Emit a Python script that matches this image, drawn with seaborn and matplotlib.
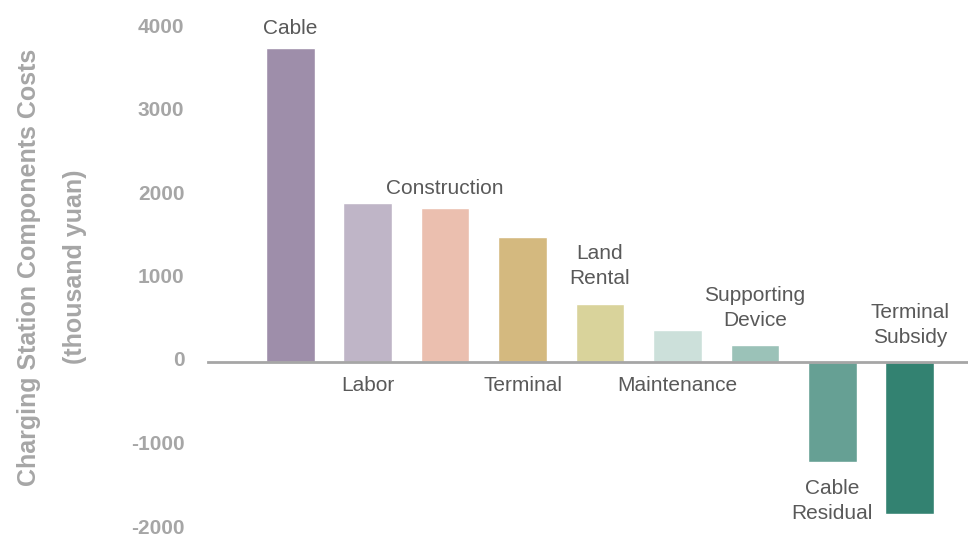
import matplotlib
matplotlib.use("Agg")
import matplotlib.pyplot as plt
from matplotlib.transforms import ScaledTranslation
import seaborn as sns
import pandas as pd

categories = ["Cable", "Labor", "Construction", "Terminal", "Land Rental",
              "Maintenance", "Supporting Device", "Cable Residual", "Terminal Subsidy"]
label_texts = ["Cable", "Labor", "Construction", "Terminal", "Land\nRental",
               "Maintenance", "Supporting\nDevice", "Cable\nResidual", "Terminal\nSubsidy"]
costs = [3760, 1910, 1850, 1500, 700, 380, 200, -1200, -1820]
colors = ["#9E8EAA", "#BFB5C7", "#EBBFAF", "#D4B97F", "#D9D39B",
          "#CCE0DA", "#9BC2B8", "#66A094", "#338271"]
yticks = [-2000, -1000, 0, 1000, 2000, 3000, 4000]

sns.set_theme(style="white")
plt.rcParams['font.family'] = ['Liberation Sans', 'DejaVu Sans']

df = pd.DataFrame({"category": categories, "cost": costs})

W, H = 968, 536
fig = plt.figure(figsize=(W / 100, H / 100), dpi=100)
top_px, bot_px = 28, 529
ax = fig.add_axes([208 / W, 1 - bot_px / H, 1 - 208 / W, (bot_px - top_px) / H])

sns.barplot(data=df, x="category", y="cost", hue="category", order=categories,
            hue_order=categories, palette=colors, legend=False, width=0.63,
            saturation=1, ax=ax)

ax.set_ylim(-2000, 4000)
ax.set_xlim(-1.06, 8.75)
ax.set_yticks(yticks)
ax.set_yticklabels([str(t) for t in yticks], fontsize=15, fontweight="bold",
                   color="#A6A6A6")
ax.tick_params(axis="y", length=0, pad=17)
shift = ScaledTranslation(0, 3 / 100, fig.dpi_scale_trans)
for lab in ax.get_yticklabels():
    lab.set_transform(lab.get_transform() + shift)
ax.set_xticks([])
ax.set_xlabel("")
ax.set_ylabel("")

fig.text(52 / W, 1 - 267 / H, "Charging Station Components Costs\n(thousand yuan)",
         rotation=90, ha="center", va="center", fontsize=18, fontweight="bold",
         color="#A6A6A6", linespacing=2.2, multialignment="center")

for s in ["top", "right", "left"]:
    ax.spines[s].set_visible(False)
ax.spines["bottom"].set_position(("data", 0))
ax.spines["bottom"].set_color("#A6A6A6")
ax.spines["bottom"].set_linewidth(2)

for i, (txt, v) in enumerate(zip(label_texts, costs)):
    extra = 4 * txt.count("\n")
    if i % 2 == 0:
        ax.annotate(txt, xy=(i, max(v, 0)), xytext=(0, 7 + extra), textcoords="offset points",
                    ha="center", va="bottom", fontsize=15, color="#595959",
                    linespacing=1.4)
    else:
        ax.annotate(txt, xy=(i, min(v, 0)), xytext=(0, -10 - extra / 2), textcoords="offset points",
                    ha="center", va="top", fontsize=15, color="#595959",
                    linespacing=1.4)

fig.savefig("out.png", dpi=100)
